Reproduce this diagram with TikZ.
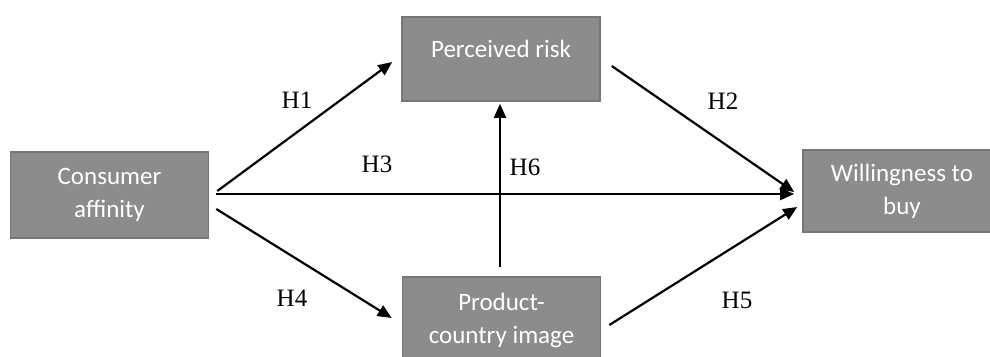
\documentclass[tikz,border=0pt]{standalone}
\usepackage{fontspec}
\setmainfont{Liberation Serif}
\newfontfamily\boxfont{Carlito}
\usetikzlibrary{arrows.meta,calc}
\definecolor{boxfill}{RGB}{140,140,140}
\definecolor{boxline}{RGB}{118,118,118}
\tikzset{
  varbox/.style={draw=boxline, line width=1.6pt, fill=boxfill, text=white,
    minimum width=198pt, inner sep=0pt, align=center,
    font=\boxfont\fontsize{25}{33}\selectfont},
  arr/.style={line width=2.2pt, -{Triangle[length=14pt,width=12pt]}},
  hyp/.style={font=\fontsize{25}{30}\selectfont, inner sep=0pt}
}
\begin{document}
\begin{tikzpicture}[x=1pt,y=-1pt]
\useasboundingbox (0,0) rectangle (990,356);
\node[varbox, minimum height=86pt] (CA) at (109.5,195) {Consumer\\affinity};
\node[varbox, minimum height=84pt, text height=18pt, text depth=22pt] (PR) at (501,59) {Perceived risk};
\node[varbox, minimum height=86pt] (PC) at (501.5,320) {Product-\\country image};
\node[varbox, minimum height=82pt] (WB) at (902,191) {Willingness to\\buy};

\draw[arr] ($(CA.east)+(8,-4)$) -- ($(PR.west)+(-9,3)$);
\draw[arr] ($(CA.east)+(7,-1)$) -- ($(WB.west)+(-8,3)$);
\draw[arr] ($(CA.east)+(7,14)$) -- ($(PC.west)+(-10,-2)$);
\draw[arr] ($(PR.east)+(11,7)$) -- ($(WB.west)+(-8,1)$);
\draw[arr] ($(PC.east)+(8,5)$) -- ($(WB.west)+(-5,16)$);
\draw[arr] ($(PC.north)+(-1.5,-9)$) -- ($(PR.south)+(-1,2)$);

\node[hyp] (h1) at (297,100) {H1};
\node[hyp] (h2) at (723,101) {H2};
\node[hyp] (h3) at (377,164) {H3};
\node[hyp] (h4) at (292,298) {H4};
\node[hyp] (h5) at (737,300) {H5};
\node[hyp] (h6) at (525,167) {H6};
\end{tikzpicture}
\end{document}
